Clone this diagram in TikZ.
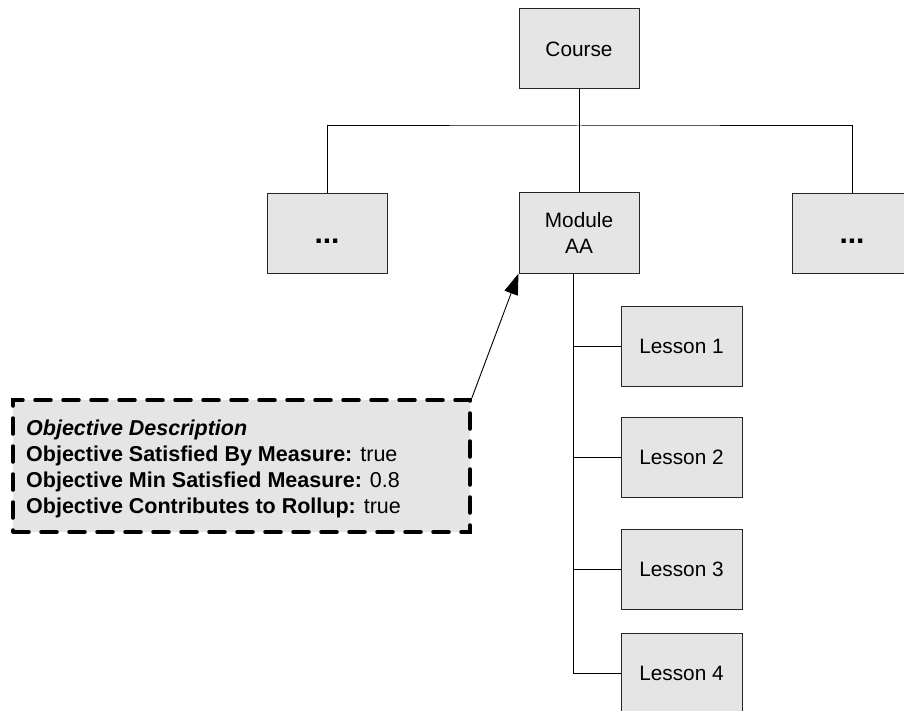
\documentclass[tikz,border=0pt]{standalone}
\usepackage{fontspec}
\setmainfont{Liberation Sans}
\usetikzlibrary{arrows.meta}
\definecolor{boxfill}{gray}{0.9}
\begin{document}
\begin{tikzpicture}[x=1pt,y=-1pt,
  unit/.style={draw=black!85, line width=1pt, fill=boxfill,
    minimum width=120pt, minimum height=80pt, inner sep=0pt,
    font=\fontsize{20.8}{26}\selectfont, align=center},
  lessonbox/.style={unit, minimum width=121pt},
  ellipsis/.style={font=\fontsize{30}{30}\selectfont\bfseries},
  wire/.style={line width=1pt, draw=black},
  callout/.style={draw=black, fill=boxfill, line width=3.5pt,
    dash pattern=on 16pt off 12pt, line cap=round,
    minimum width=457pt, minimum height=132pt, inner sep=0pt},
  objline/.style={anchor=base west, inner sep=0pt,
    font=\fontsize{21.5}{26}\selectfont},
  pointer/.style={line width=0.9pt, draw=black,
    -{Triangle[length=21pt,width=14pt]}}
]
\useasboundingbox (0,0) rectangle (904,711);
\clip (0,0) rectangle (904,711);

% course structure
\node[unit] (course) at (579,49) {Course};
\node[unit, ellipsis] (left) at (327,233.5) {\vphantom{C}...};
\node[unit] (module) at (579,233) {Module\\AA};
\node[unit, ellipsis] (right) at (852,233.5) {\vphantom{C}...};

\node[lessonbox] (l1) at (681.5,346) {Lesson 1};
\node[lessonbox] (l2) at (681.5,457) {Lesson 2};
\node[lessonbox] (l3) at (681.5,569) {Lesson 3};
\node[lessonbox] (l4) at (681.5,673) {Lesson 4};

% tree connectors
\coordinate (bus) at (579,126);
\coordinate (spine) at (573,273);
\draw[wire] (course.south) -- (module.north);
\draw[wire] (left.north) |- (bus) -| (right.north);
\draw[wire] (spine) |- (l4.west);
\draw[wire] (spine |- l1.west) -- (l1.west);
\draw[wire] (spine |- l2.west) -- (l2.west);
\draw[wire] (spine |- l3.west) -- (l3.west);

% objective callout
\node[callout] (obj) at (241.5,466) {};
\node[objline] (o1) at (26,435) {\textbf{\textit{Objective Description}}};
\node[objline] (o2) at (26,461) {\textbf{Objective Satisfied By Measure:} true};
\node[objline] (o3) at (26,487) {\textbf{Objective Min Satisfied Measure:} 0.8};
\node[objline] (o4) at (26,513) {\textbf{Objective Contributes to Rollup:} true};
\draw[pointer] (obj.north east) -- (module.south west);
\end{tikzpicture}
\end{document}
